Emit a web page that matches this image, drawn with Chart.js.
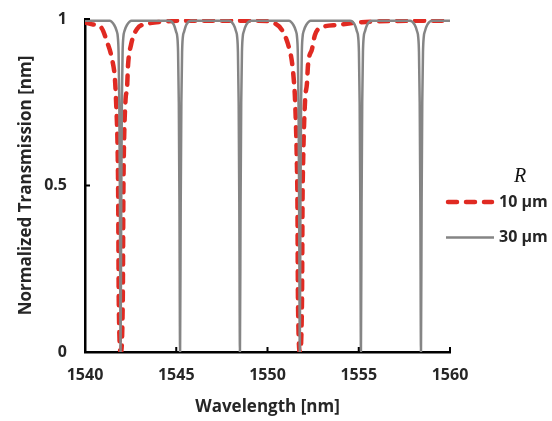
<!DOCTYPE html>
<html>
<head>
<meta charset="utf-8">
<script src="https://cdn.jsdelivr.net/npm/chart.js@4.4.1/dist/chart.umd.min.js"></script>
<style>
  html, body { margin: 0; padding: 0; background: #fff; }
  #wrap { width: 552px; height: 421px; }
</style>
</head>
<body>
<div id="wrap"><canvas id="chart" width="552" height="421"></canvas></div>
<script>
// R = 10 um ring (red dashed)
const r10Wavelength = [
    1540.00, 1540.40, 1540.88, 1541.21, 1541.48, 1541.64, 1541.70, 1541.80, 1541.82, 1541.85, 1541.96,
    1542.07, 1542.10, 1542.12, 1542.22, 1542.30, 1542.36, 1542.52, 1542.85, 1543.40, 1544.20, 1546.00,
    1549.50, 1550.25, 1550.79, 1551.12, 1551.34, 1551.45, 1551.51, 1551.61, 1551.64, 1551.67, 1551.78,
    1551.89, 1551.92, 1551.95, 1552.06, 1552.16, 1552.22, 1552.44, 1552.60, 1553.04, 1553.81, 1555.00,
    1557.00, 1560.00
];
const r10Transmission = [
    0.990, 0.984, 0.975, 0.931, 0.880, 0.820, 0.757, 0.568, 0.456, 0.156, 0.000,
    0.156, 0.456, 0.568, 0.757, 0.790, 0.862, 0.922, 0.970, 0.985, 0.992, 0.995,
    0.995, 0.990, 0.967, 0.925, 0.871, 0.811, 0.757, 0.568, 0.456, 0.156, 0.000,
    0.156, 0.456, 0.568, 0.757, 0.805, 0.862, 0.910, 0.952, 0.976, 0.982, 0.990,
    0.994, 0.995
];

// R = 30 um ring (grey solid)
const r30Wavelength = [
    1540.00,
    1541.35, 1541.60, 1541.73, 1541.80, 1541.84, 1541.88, 1541.915, 1541.95, 1541.985, 1542.02, 1542.06, 1542.10, 1542.17, 1542.30, 1542.55,
    1544.61, 1544.86, 1544.99, 1545.06, 1545.10, 1545.14, 1545.175, 1545.21, 1545.245, 1545.28, 1545.32, 1545.36, 1545.43, 1545.56, 1545.81,
    1547.89, 1548.14, 1548.27, 1548.34, 1548.38, 1548.42, 1548.455, 1548.49, 1548.525, 1548.56, 1548.60, 1548.64, 1548.71, 1548.84, 1549.09,
    1551.17, 1551.42, 1551.55, 1551.62, 1551.66, 1551.70, 1551.735, 1551.77, 1551.805, 1551.84, 1551.88, 1551.92, 1551.99, 1552.12, 1552.37,
    1554.52, 1554.77, 1554.90, 1554.97, 1555.01, 1555.05, 1555.085, 1555.12, 1555.155, 1555.19, 1555.23, 1555.27, 1555.34, 1555.47, 1555.72,
    1557.81, 1558.06, 1558.19, 1558.26, 1558.30, 1558.34, 1558.375, 1558.41, 1558.445, 1558.48, 1558.52, 1558.56, 1558.63, 1558.76, 1559.01,
    1560.00
];
const r30Transmission = [
    0.995,
    0.995, 0.982, 0.965, 0.945, 0.900, 0.750, 0.450, 0.000, 0.450, 0.750, 0.900, 0.945, 0.965, 0.982, 0.995,
    0.995, 0.984, 0.962, 0.945, 0.900, 0.750, 0.450, 0.000, 0.450, 0.750, 0.900, 0.945, 0.962, 0.984, 0.995,
    0.995, 0.983, 0.964, 0.945, 0.900, 0.750, 0.450, 0.000, 0.450, 0.750, 0.900, 0.945, 0.964, 0.983, 0.995,
    0.995, 0.982, 0.965, 0.945, 0.900, 0.750, 0.450, 0.000, 0.450, 0.750, 0.900, 0.945, 0.965, 0.982, 0.995,
    0.995, 0.984, 0.963, 0.945, 0.900, 0.750, 0.450, 0.000, 0.450, 0.750, 0.900, 0.945, 0.963, 0.984, 0.995,
    0.995, 0.983, 0.964, 0.945, 0.900, 0.750, 0.450, 0.000, 0.450, 0.750, 0.900, 0.945, 0.964, 0.983, 0.995,
    0.995
];

const xTicks = [1540, 1545, 1550, 1555, 1560];
const yTicks = [0, 0.5, 1];
const seriesLabels = ['10 µm', '30 µm'];

const RED = '#e02a22';
const GREY = '#858585';
const TEXT = '#262626';
const FONT = '"Open Sans", "DejaVu Sans", sans-serif';

function toPoints(xs, ys) {
    return xs.map(function (x, i) {
        return { x: x, y: ys[i] };
    });
}

// Excel-style tick marks pointing into the plot
const innerTicks = {
    id: 'innerTicks',
    afterDatasetsDraw(chart) {
        const { ctx, chartArea: a, scales } = chart;
        ctx.save();
        ctx.strokeStyle = '#000';
        ctx.lineWidth = 2;
        ctx.beginPath();
        xTicks.forEach(function (v) {
            const px = scales.x.getPixelForValue(v);
            ctx.moveTo(px, a.bottom);
            ctx.lineTo(px, a.bottom - 5);
        });
        yTicks.forEach(function (v) {
            const py = scales.y.getPixelForValue(v);
            ctx.moveTo(a.left, py);
            ctx.lineTo(a.left + 5, py);
        });
        ctx.stroke();
        ctx.restore();
    },
};

// legend on the right: italic R heading, then the two line samples
const sideLegend = {
    id: 'sideLegend',
    afterDraw(chart) {
        const { ctx, chartArea: a } = chart;
        const x0 = a.right - 4;
        ctx.save();
        ctx.fillStyle = '#111';
        ctx.font = 'italic 20px "Liberation Serif", serif';
        ctx.textAlign = 'center';
        ctx.textBaseline = 'middle';
        ctx.fillText('R', x0 + 74, 177);

        ctx.lineWidth = 4.5;
        ctx.strokeStyle = RED;
        ctx.lineCap = 'round';
        ctx.setLineDash([9, 9]);
        ctx.beginPath();
        ctx.moveTo(x0 + 2, 202);
        ctx.lineTo(x0 + 46, 202);
        ctx.stroke();

        ctx.setLineDash([]);
        ctx.lineCap = 'butt';
        ctx.lineWidth = 2.5;
        ctx.strokeStyle = GREY;
        ctx.beginPath();
        ctx.moveTo(x0, 237.5);
        ctx.lineTo(x0 + 48, 237.5);
        ctx.stroke();

        ctx.fillStyle = TEXT;
        ctx.font = 'bold 16px ' + FONT;
        ctx.textAlign = 'left';
        ctx.fillText(seriesLabels[0], x0 + 53, 202);
        ctx.fillText(seriesLabels[1], x0 + 53, 237.5);
        ctx.restore();
    },
};

new Chart(document.getElementById('chart'), {
    type: 'line',
    data: {
        datasets: [
            {
                label: seriesLabels[1],
                data: toPoints(r30Wavelength, r30Transmission),
                borderColor: GREY,
                borderWidth: 2.5,
                pointRadius: 0,
                cubicInterpolationMode: 'monotone',
                order: 0,
            },
            {
                label: seriesLabels[0],
                data: toPoints(r10Wavelength, r10Transmission),
                borderColor: RED,
                borderWidth: 4.5,
                borderDash: [9, 9],
                borderCapStyle: 'round',
                pointRadius: 0,
                cubicInterpolationMode: 'monotone',
                order: 1,
            },
        ],
    },
    options: {
        responsive: false,
        animation: false,
        layout: { padding: { top: 19, right: 102, left: 0, bottom: 0 } },
        plugins: { legend: { display: false }, tooltip: { enabled: false } },
        scales: {
            x: {
                type: 'linear',
                min: 1540,
                max: 1560,
                afterBuildTicks: function (s) {
                    s.ticks = xTicks.map(function (v) { return { value: v }; });
                },
                afterFit: function (s) { s.height = 69; },
                // grid hidden; tickLength only used as label offset
                grid: { display: false, drawTicks: true, tickLength: 12 },
                border: { display: true, color: '#000', width: 2.5 },
                ticks: {
                    color: TEXT,
                    font: { family: FONT, size: 16, weight: 'bold' },
                    padding: 2,
                    maxRotation: 0,
                    callback: function (v) { return String(v); },
                },
                title: {
                    display: true,
                    text: 'Wavelength [nm]',
                    color: TEXT,
                    font: { family: FONT, size: 17, weight: 'bold' },
                    padding: { top: 0, bottom: 4 },
                },
            },
            y: {
                min: 0,
                max: 1,
                afterBuildTicks: function (s) {
                    s.ticks = yTicks.map(function (v) { return { value: v }; });
                },
                afterFit: function (s) { s.width = 85; },
                grid: { display: false, drawTicks: true, tickLength: 16 },
                border: { display: true, color: '#000', width: 2.5 },
                ticks: {
                    color: TEXT,
                    font: { family: FONT, size: 16, weight: 'bold' },
                    padding: 2,
                    callback: function (v) { return String(v); },
                },
                title: {
                    display: true,
                    text: 'Normalized Transmission [nm]',
                    color: TEXT,
                    font: { family: FONT, size: 17, weight: 'bold' },
                    padding: { top: 16, bottom: 0 },
                },
            },
        },
    },
    plugins: [innerTicks, sideLegend],
});
</script>
</body>
</html>
